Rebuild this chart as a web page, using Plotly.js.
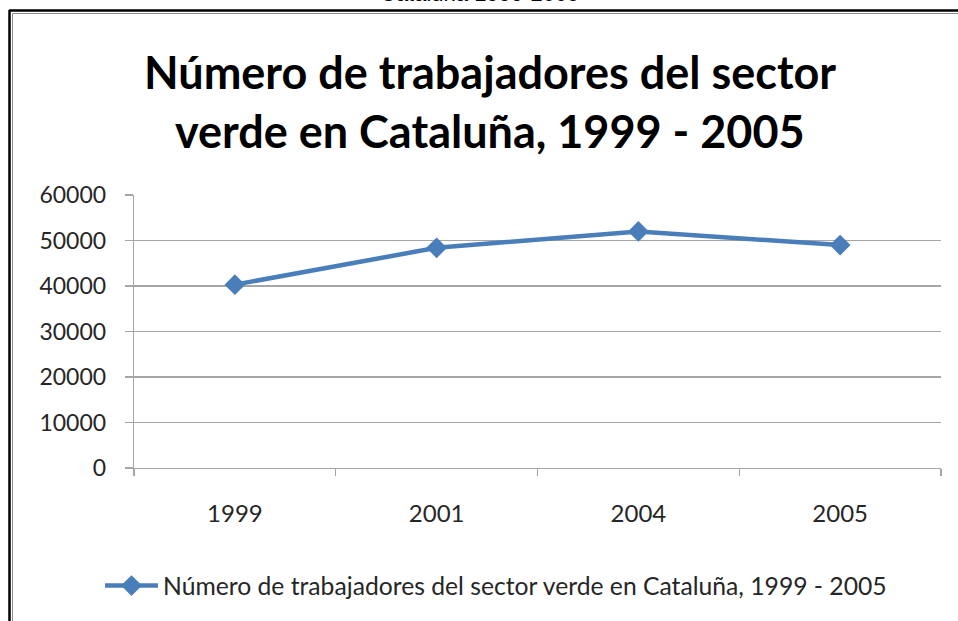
<!DOCTYPE html>
<html>
<head>
<meta charset="utf-8">
<script src="https://cdn.plot.ly/plotly-3.0.1.min.js"></script>
<style>html,body{margin:0;padding:0;background:#fff;}#chart{width:958px;height:621px;}</style>
</head>
<body>
<div id="chart"></div>
<script>
// ---- data ----
const years = ["1999", "2001", "2004", "2005"];
const workers = [40300, 48400, 52000, 49000];
const seriesName = "Número de trabajadores del sector verde en Cataluña, 1999 - 2005";
const titleLine1 = "Número de trabajadores del sector";
const titleLine2 = "verde en Cataluña, 1999 - 2005";
const pageHeader = "Cataluña 1999-2005";
const yTicks = [0, 10000, 20000, 30000, 40000, 50000, 60000];

// ---- layout geometry ----
const W = 958, H = 621;
const M = {l: 134, r: 17, t: 195, b: 153};
const PW = W - M.l - M.r, PH = H - M.t - M.b;
const px = x => (x - M.l) / PW;
const py = y => (H - M.b - y) / PH;

const blue = "#4a7ebb";
const grid = "#a6a6a6";
const txt = "#262626";

const trace = {
  x: years, y: workers, type: "scatter", mode: "lines+markers",
  name: seriesName,
  line: {color: blue, width: 4.5},
  marker: {symbol: "diamond", size: 16, color: blue, line: {width: 0}}
};

const layout = {
  width: W, height: H,
  margin: M,
  paper_bgcolor: "#fff", plot_bgcolor: "#fff",
  showlegend: true,
  font: {family: "Lato, 'Open Sans', sans-serif", color: txt},
  xaxis: {
    type: "category", tickson: "boundaries", range: [-0.5, 3.5],
    showgrid: false, showline: true, linecolor: grid, linewidth: 1.3,
    ticks: "outside", ticklen: 7, tickcolor: grid, tickwidth: 1.3,
    ticklabelstandoff: 24,
    tickfont: {size: 24, color: txt, family: "Lato, sans-serif"},
    zeroline: false, fixedrange: true
  },
  yaxis: {
    range: [0, 60000], tickvals: yTicks, ticktext: yTicks.map(String),
    showgrid: true, gridcolor: grid, gridwidth: 1.3,
    showline: true, linecolor: grid, linewidth: 1.3,
    ticks: "outside", ticklen: 8, tickcolor: grid, tickwidth: 1.3,
    ticklabelstandoff: 14,
    tickfont: {size: 23, color: txt, family: "Lato, sans-serif"},
    zeroline: false, fixedrange: true
  },
  legend: {
    orientation: "h", x: px(100), xanchor: "left", y: py(586), yanchor: "middle",
    itemwidth: 53,
    font: {size: 24.7, color: txt, family: "Lato, sans-serif"},
    bgcolor: "rgba(0,0,0,0)"
  },
  annotations: [
    {text: titleLine1, xref: "paper", yref: "paper", x: px(490), y: py(72),
     xanchor: "center", yanchor: "middle", showarrow: false,
     font: {size: 45, color: "#000", family: "Lato, sans-serif", weight: "bold"}},
    {text: titleLine2, xref: "paper", yref: "paper", x: px(490), y: py(131),
     xanchor: "center", yanchor: "middle", showarrow: false,
     font: {size: 45, color: "#000", family: "Lato, sans-serif", weight: "bold"}},
    {text: pageHeader, xref: "paper", yref: "paper", x: px(479), y: py(-7),
     xanchor: "center", yanchor: "middle", showarrow: false,
     font: {size: 22, color: "#000", family: "'Liberation Sans', Arial, sans-serif"}}
  ],
  shapes: [
    {type: "line", xref: "paper", yref: "paper", x0: px(9), x1: px(960), y0: py(10.5), y1: py(10.5),
     line: {color: "#000", width: 2.5}},
    {type: "line", xref: "paper", yref: "paper", x0: px(9.5), x1: px(9.5), y0: py(10), y1: py(625),
     line: {color: "#000", width: 2.5}},
    {type: "line", xref: "paper", yref: "paper", x0: px(12.5), x1: px(960), y0: py(13.5), y1: py(13.5),
     line: {color: "#8c8c8c", width: 1}},
    {type: "line", xref: "paper", yref: "paper", x0: px(12.5), x1: px(12.5), y0: py(13.5), y1: py(625),
     line: {color: "#8c8c8c", width: 1}}
  ]
};

Plotly.newPlot("chart", [trace], layout, {displayModeBar: false, staticPlot: true});
</script>
</body>
</html>
